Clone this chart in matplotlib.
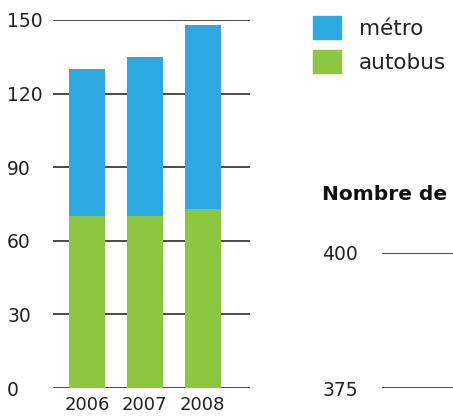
import matplotlib.pyplot as plt
from matplotlib.patches import Patch

# donnees
annees = ['2006', '2007', '2008']
autobus = [70, 70, 73]
metro = [60, 65, 75]          # total 130, 135, 148
graduations = [0, 30, 60, 90, 120, 150]
graduations_2 = [375, 400]

bleu = '#2ca9e1'
vert = '#8dc640'
gris = '#2b2b2b'

plt.rcParams['font.family'] = ['DejaVu Sans']
W, H = 453, 420
fig = plt.figure(figsize=(W / 100, H / 100), dpi=100)

# graphique de gauche
ax = fig.add_axes([53 / W, 1 - 388 / H, 197 / W, 368 / H])
x = list(range(len(annees)))
ax.bar(x, autobus, width=0.62, color=vert, zorder=3)
ax.bar(x, metro, bottom=autobus, width=0.62, color=bleu, zorder=3)
for g in graduations:
    ax.axhline(g, color=gris, lw=1.2, zorder=2)
ax.set_xlim(-0.59, 2.82)
ax.set_ylim(0, 150)
ax.set_yticks(graduations)
ax.set_yticklabels([str(g) for g in graduations], ha='left')
ax.tick_params(axis='y', length=0, pad=33, labelsize=13.5, labelcolor='#222222')
ax.set_xticks(x)
ax.set_xticklabels(annees)
ax.tick_params(axis='x', length=0, pad=6, labelsize=13, labelcolor='#222222')
for s in ax.spines.values():
    s.set_visible(False)

handles = [Patch(color=bleu, label='métro'), Patch(color=vert, label='autobus')]
fig.legend(handles=handles, loc='upper left', bbox_to_anchor=(313 / W, 1 - 16 / H),
           frameon=False, fontsize=15.5, handlelength=1.3, handleheight=1.3,
           handletextpad=0.84, labelspacing=0.47, borderpad=0, borderaxespad=0,
           labelcolor='#222222')

# graphique de droite (coupe)
ax2 = fig.add_axes([382 / W, 1 - 388 / H, 0.3, 135 / H])
for g in graduations_2:
    ax2.axhline(g, color=gris, lw=1.2)
ax2.set_ylim(375, 400)
ax2.set_yticks(graduations_2)
ax2.set_yticklabels([str(g) for g in graduations_2], ha='left')
ax2.tick_params(axis='y', length=0, pad=43, labelsize=13.5, labelcolor='#222222')
ax2.set_xticks([])
for s in ax2.spines.values():
    s.set_visible(False)
fig.text(322 / W, 1 - 195 / H, 'Nombre de', fontsize=14.5, fontweight='bold',
         va='center', ha='left', color='#111111')

fig.savefig('out.png', dpi=100)
